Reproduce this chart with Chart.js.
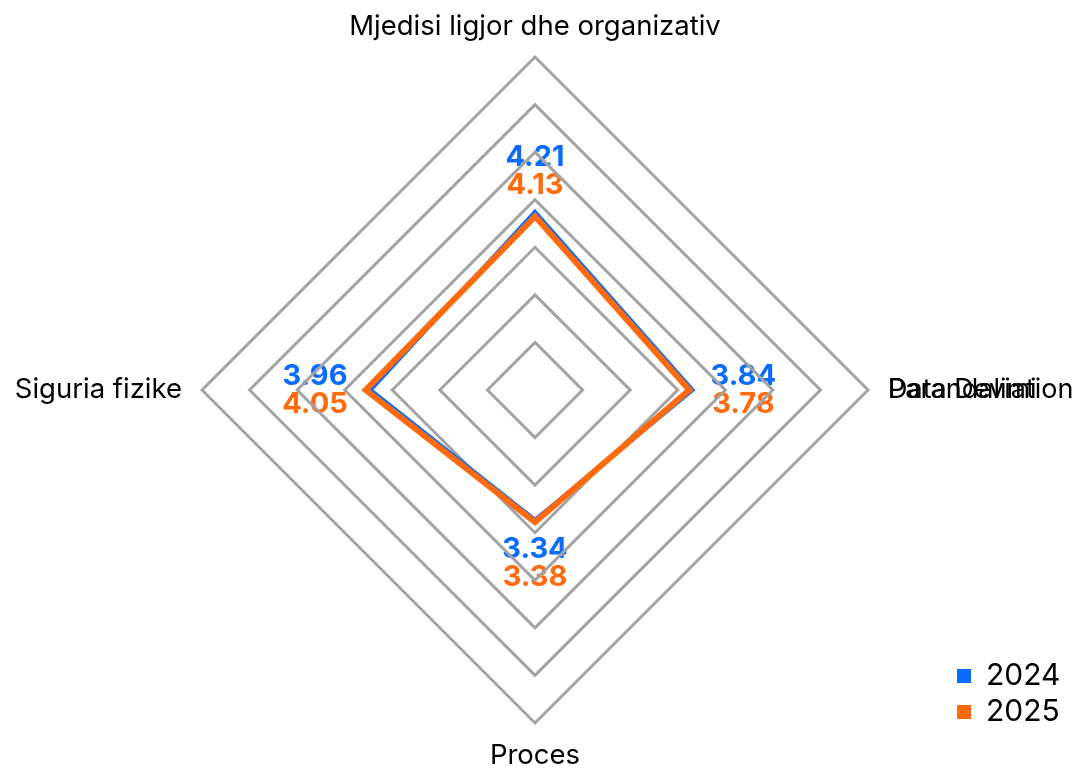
<!DOCTYPE html>
<html><head><meta charset="utf-8">
<script src="https://cdn.jsdelivr.net/npm/chart.js@4/dist/chart.umd.min.js"></script>
<style>html,body{margin:0;padding:0;background:#fff;overflow:hidden}#wrap{width:1089px;height:770px;position:relative}</style>
</head><body><div id="wrap"><canvas id="c"></canvas></div>
<script>
const categories = ['Mjedisi ligjor dhe organizativ', ['Parandalimi', 'Data Deviation'], 'Proces', 'Siguria fizike'];
const seriesNames = ['2024', '2025'];
const values2024 = [4.21, 3.84, 3.34, 3.96];
const values2025 = [4.13, 3.78, 3.38, 4.05];
const seriesColors = ['#0A6CFF', '#FF6A0D'];
const scaleMin = 1, scaleMax = 7, tickCount = 8;
const viewWidth = 1075;

const valueLabels = {
  id: 'valueLabels',
  beforeDraw(chart) {
    const scale = chart.scales.r;
    const ctx = chart.ctx;
    ctx.save();
    ctx.font = 'bold 29px Inter';
    ctx.textAlign = 'center';
    ctx.textBaseline = 'middle';
    const sets = chart.data.datasets;
    for (let i = 0; i < chart.data.labels.length; i++) {
      const vmax = Math.max(...sets.map(d => d.data[i]));
      const texts = sets.map(d => d.data[i].toFixed(2));
      const textW = Math.max(...texts.map(t => ctx.measureText(t).width));
      const a = scale.getIndexAngle(i) - Math.PI / 2;
      const half = Math.abs(Math.cos(a)) * (textW / 2 + 5) + Math.abs(Math.sin(a)) * 28;
      const dist = scale.getDistanceFromCenterForValue(vmax) + 13 + half;
      const p = scale.getPointPosition(i, dist);
      sets.forEach((d, k) => {
        ctx.fillStyle = d.borderColor;
        ctx.fillText(texts[k], p.x, p.y + (k === 0 ? -14 : 14));
      });
    }
    ctx.restore();
  }
};

const legendPlacer = {
  id: 'legendPlacer',
  afterLayout(chart) {
    const lg = chart.legend;
    if (!lg) return;
    const pad = lg.options.labels.padding;
    lg.left = viewWidth - 118 - pad;
    lg.right = viewWidth;
    lg.top = 0;
    lg.bottom = chart.height - 37;
  }
};

new Chart(document.getElementById('c'), {
  type: 'radar',
  data: {
    labels: categories,
    datasets: [
      {label: seriesNames[0], data: values2024, borderColor: seriesColors[0], backgroundColor: seriesColors[0], borderWidth: 4, fill: false, pointRadius: 0, order: 1, borderJoinStyle: 'miter'},
      {label: seriesNames[1], data: values2025, borderColor: seriesColors[1], backgroundColor: seriesColors[1], borderWidth: 6, fill: false, pointRadius: 0, order: 0, borderJoinStyle: 'miter'}
    ]
  },
  options: {
    responsive: true, maintainAspectRatio: false, animation: false,
    layout: {padding: {top: 10}},
    plugins: {
      legend: {position: 'chartArea', align: 'end',
        labels: {font: {family: 'Inter', size: 30}, color: '#000', boxWidth: 14, boxHeight: 14, padding: 6,
          sort: (a, b) => a.datasetIndex - b.datasetIndex,
          generateLabels: (chart) => Chart.defaults.plugins.legend.labels.generateLabels(chart).map(it => Object.assign(it, {lineWidth: 0}))}},
      tooltip: {enabled: false}
    },
    scales: {
      r: {
        min: scaleMin, max: scaleMax,
        ticks: {display: false, count: tickCount},
        grid: {color: '#a3a3a3', lineWidth: 3},
        angleLines: {display: false},
        pointLabels: {
          font: (c) => ({family: 'Inter', size: c.index === 1 ? 27 : 27.5,
                         lineHeight: c.index === 1 ? 0 : (c.index === 2 ? 1.0 : 1.2)}),
          color: '#000',
          padding: (c) => [14, 20, 19, 20][c.index]
        }
      }
    }
  },
  plugins: [valueLabels, legendPlacer]
});
</script>
</body></html>
